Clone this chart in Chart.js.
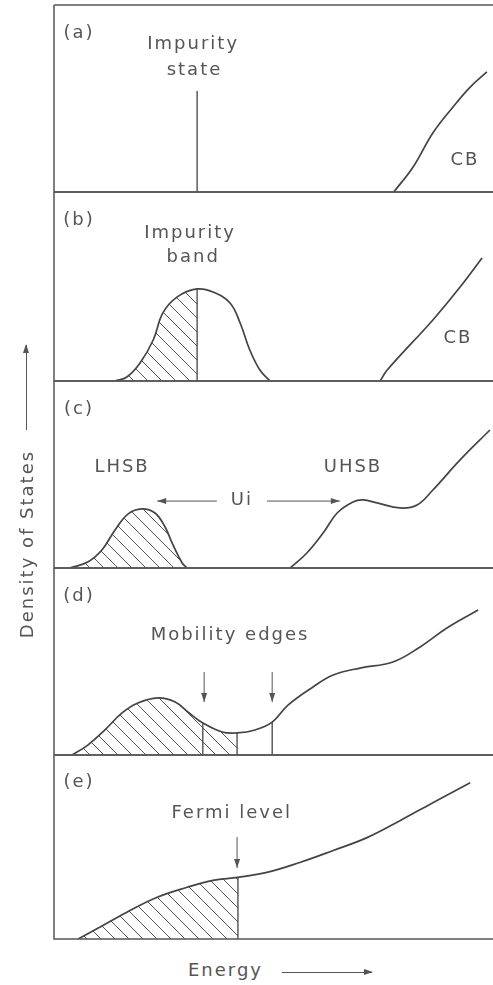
<!DOCTYPE html>
<html>
<head>
<meta charset="utf-8">
<script src="https://cdn.jsdelivr.net/npm/chart.js@4.4.1/dist/chart.umd.min.js"></script>
<style>
  html, body { margin: 0; padding: 0; background: #fff; }
  #page { position: relative; width: 493px; height: 985px; overflow: hidden;
          font-family: "DejaVu Sans", sans-serif; color: #555; }
  #page canvas { position: absolute; left: 0; }
  .axis-title { position: absolute; font-size: 18px; letter-spacing: 2px; white-space: nowrap; }
  .arrow-x { position: absolute; height: 0; border-top: 1px solid #555; }
  .arrow-x::after { content: ''; position: absolute; right: -1px; top: -4px;
                    border-left: 9px solid #555; border-top: 3px solid transparent; border-bottom: 3px solid transparent; }
  .arrow-y { position: absolute; width: 0; border-left: 1px solid #555; }
  .arrow-y::after { content: ''; position: absolute; left: -4px; top: -1px;
                    border-bottom: 9px solid #555; border-left: 3px solid transparent; border-right: 3px solid transparent; }
</style>
</head>
<body>
<div id="page">
  <canvas id="panelA"></canvas>
  <canvas id="panelB"></canvas>
  <canvas id="panelC"></canvas>
  <canvas id="panelD"></canvas>
  <canvas id="panelE"></canvas>
  <div class="axis-title" style="left:-93px; top:532px; width:240px; height:24px; line-height:24px; text-align:center; transform:rotate(-90deg);">Density of States</div>
  <div class="arrow-y" style="left:26px; top:345px; height:85px;"></div>
  <div class="axis-title" style="left:188px; top:958px; line-height:24px;">Energy</div>
  <div class="arrow-x" style="left:282px; top:972px; width:90px;"></div>
</div>
<script>
// 线条与文字颜色
const INK = '#444';
const TEXT = '#555';
const FONT = '18px "DejaVu Sans", sans-serif';

// 各子图在页面中的上下边界 (px)
const panelTops = [5, 192, 381, 568, 755];
const panelBottoms = [192, 381, 568, 755, 939];
const panelTags = ['(a)', '(b)', '(c)', '(d)', '(e)'];

// (a) 杂质能级 + 导带
const aStateE = [3.26, 3.26];
const aStateDos = [0, 5.4];
const aCbE = [7.74, 8.18, 8.63, 9.09, 9.48, 9.86];
const aCbDos = [0, 1.34, 3.16, 4.55, 5.61, 6.42];

// (b) 杂质带 + 导带
const bBandE = [1.39, 1.66, 1.96, 2.26, 2.48, 2.80, 3.26, 3.62, 4.01, 4.24, 4.46, 4.69, 4.92];
const bBandDos = [0, 0.21, 0.95, 2.17, 3.60, 4.44, 4.87, 4.71, 4.13, 3.07, 1.64, 0.58, 0];
const bFilledTo = 3.26;
const bCbE = [7.43, 7.59, 8.63, 9.25, 9.75];
const bCbDos = [0, 0.58, 3.23, 4.97, 6.51];

// (c) 下/上 Hubbard 子带
const cLowerE = [0.36, 0.77, 1.09, 1.39, 1.69, 2.00, 2.30, 2.53, 2.69, 2.92, 3.03];
const cLowerDos = [0, 0.32, 0.96, 2.03, 2.89, 3.16, 2.94, 2.19, 1.34, 0.27, 0];
const cUpperE = [5.38, 5.76, 6.13, 6.45, 6.81, 7.04, 7.36, 7.88, 8.27, 8.63, 9.25, 9.93];
const cUpperDos = [0, 0.80, 1.87, 2.94, 3.53, 3.64, 3.48, 3.21, 3.37, 4.17, 5.78, 7.38];

// (d) 迁移率边
const dE = [0.41, 0.77, 1.16, 1.55, 1.91, 2.37, 2.76, 3.05, 3.39, 3.83, 4.17, 4.58, 4.97, 5.33, 5.90, 6.36, 6.97, 7.72, 8.34, 8.95, 9.66];
const dDos = [0, 0.53, 1.34, 2.25, 2.78, 3.05, 2.83, 2.30, 1.71, 1.23, 1.18, 1.34, 1.76, 2.67, 3.64, 4.28, 4.65, 4.97, 5.78, 6.79, 7.75];
const dEdgeE = [3.39, 4.17, 4.97];
const dEdgeDos = [1.71, 1.18, 1.76];
const dFilledTo = 4.17;

// (e) 费米能级
const eE = [0.55, 1.05, 1.66, 2.35, 3.03, 3.62, 4.19, 4.85, 5.60, 6.36, 7.13, 7.88, 8.63, 9.48];
const eDos = [0, 0.65, 1.46, 2.27, 2.81, 3.19, 3.35, 3.62, 4.16, 4.81, 5.51, 6.43, 7.41, 8.49];
const eFermiE = 4.19;
const eFermiDos = 3.37;

/**
 * 把两个数组合成 {x, y} 点
 */
function toPoints(xs, ys) {
  return xs.map((x, i) => ({ x: x, y: ys[i] }));
}

/**
 * 斜线填充图案 (\\\\)
 */
function makeHatch() {
  const s = 14;
  const c = document.createElement('canvas');
  c.width = s;
  c.height = s;
  const g = c.getContext('2d');
  g.strokeStyle = '#555';
  g.lineWidth = 1;
  g.beginPath();
  g.moveTo(-1, -1); g.lineTo(s + 1, s + 1);
  g.moveTo(-1, s - 1); g.lineTo(1, s + 1);
  g.moveTo(s - 1, -1); g.lineTo(s + 1, 1);
  g.stroke();
  return g.createPattern(c, 'repeat');
}
const HATCH = makeHatch();

function curve(points) {
  return {
    data: points,
    borderColor: INK,
    borderWidth: 1.7,
    pointRadius: 0,
    fill: false,
    tension: 0.4
  };
}

function stick(points) {
  return {
    data: points,
    borderColor: INK,
    borderWidth: 1.3,
    pointRadius: 0,
    fill: false,
    tension: 0
  };
}

function hatched(points) {
  return {
    data: points,
    borderWidth: 0,
    borderColor: 'rgba(0,0,0,0)',
    backgroundColor: HATCH,
    pointRadius: 0,
    fill: 'origin',
    tension: 0.4
  };
}

// 边框、文字、箭头
const framePlugin = {
  id: 'frame',
  afterDraw(chart, args, opts) {
    const ctx = chart.ctx;
    const area = chart.chartArea;
    const xs = chart.scales.x;
    const ys = chart.scales.y;
    ctx.save();
    ctx.strokeStyle = '#555';
    ctx.lineWidth = 1.5;
    ctx.beginPath();
    ctx.moveTo(area.left, area.top);
    ctx.lineTo(area.right, area.top);
    ctx.moveTo(area.left, area.top);
    ctx.lineTo(area.left, area.bottom);
    ctx.lineTo(area.right, area.bottom);
    ctx.stroke();

    ctx.fillStyle = TEXT;
    ctx.font = FONT;
    ctx.letterSpacing = '2px';
    ctx.textAlign = 'center';
    ctx.textBaseline = 'middle';
    (opts.notes || []).forEach(n => {
      ctx.fillText(n.text, xs.getPixelForValue(n.x), ys.getPixelForValue(n.y));
    });

    ctx.strokeStyle = '#555';
    ctx.fillStyle = '#555';
    ctx.lineWidth = 1;
    (opts.arrows || []).forEach(a => {
      const x1 = xs.getPixelForValue(a.x1), y1 = ys.getPixelForValue(a.y1);
      const x2 = xs.getPixelForValue(a.x2), y2 = ys.getPixelForValue(a.y2);
      const ang = Math.atan2(y2 - y1, x2 - x1);
      ctx.beginPath();
      ctx.moveTo(x1, y1);
      ctx.lineTo(x2, y2);
      ctx.stroke();
      ctx.beginPath();
      ctx.moveTo(x2, y2);
      ctx.lineTo(x2 - 9 * Math.cos(ang) + 3 * Math.sin(ang), y2 - 9 * Math.sin(ang) - 3 * Math.cos(ang));
      ctx.lineTo(x2 - 9 * Math.cos(ang) - 3 * Math.sin(ang), y2 - 9 * Math.sin(ang) + 3 * Math.cos(ang));
      ctx.closePath();
      ctx.fill();
    });
    ctx.restore();
  }
};

function makePanel(id, index, datasets, notes, arrows) {
  const canvas = document.getElementById(id);
  const top = panelTops[index] - 1;
  const height = panelBottoms[index] - panelTops[index] + 2;
  canvas.width = 493;
  canvas.height = height;
  canvas.style.top = top + 'px';
  return new Chart(canvas, {
    type: 'line',
    data: { datasets: datasets },
    options: {
      responsive: false,
      animation: false,
      events: [],
      layout: { padding: { left: 54, right: 0, top: 1, bottom: 1 } },
      scales: {
        x: { type: 'linear', min: 0, max: 10, display: false },
        y: { type: 'linear', min: 0, max: 10, display: false }
      },
      plugins: {
        legend: { display: false },
        tooltip: { enabled: false },
        frame: {
          notes: [{ text: panelTags[index], x: 0.57, y: 8.5 }].concat(notes),
          arrows: arrows
        }
      }
    },
    plugins: [framePlugin]
  });
}

makePanel('panelA', 0, [
  stick(toPoints(aStateE, aStateDos)),
  curve(toPoints(aCbE, aCbDos))
], [
  { text: 'Impurity', x: 3.17, y: 7.9 },
  { text: 'state', x: 3.2, y: 6.5 },
  { text: 'CB', x: 9.36, y: 1.7 }
], []);

const bBand = toPoints(bBandE, bBandDos);
makePanel('panelB', 1, [
  curve(bBand),
  stick([{ x: bFilledTo, y: 0 }, bBand.find(p => p.x === bFilledTo)]),
  hatched(bBand.filter(p => p.x <= bFilledTo)),
  curve(toPoints(bCbE, bCbDos))
], [
  { text: 'Impurity', x: 3.1, y: 7.83 },
  { text: 'band', x: 3.17, y: 6.56 },
  { text: 'CB', x: 9.2, y: 2.28 }
], []);

const cLower = toPoints(cLowerE, cLowerDos);
makePanel('panelC', 2, [
  curve(cLower),
  hatched(cLower),
  curve(toPoints(cUpperE, cUpperDos))
], [
  { text: 'LHSB', x: 1.55, y: 5.4 },
  { text: 'UHSB', x: 6.81, y: 5.4 },
  { text: 'Ui', x: 4.28, y: 3.6 }
], [
  { x1: 3.71, y1: 3.58, x2: 2.35, y2: 3.58 },
  { x1: 4.85, y1: 3.58, x2: 6.51, y2: 3.58 }
]);

const dCurve = toPoints(dE, dDos);
makePanel('panelD', 3, [
  curve(dCurve),
  ...dEdgeE.map((x, i) => stick([{ x: x, y: 0 }, { x: x, y: dEdgeDos[i] }])),
  hatched(dCurve.filter(p => p.x <= dFilledTo))
], [
  { text: 'Mobility edges', x: 4.01, y: 6.42 }
], [
  { x1: 3.42, y1: 4.44, x2: 3.42, y2: 2.83 },
  { x1: 4.97, y1: 4.44, x2: 4.97, y2: 2.83 }
]);

const eCurve = toPoints(eE, eDos);
makePanel('panelE', 4, [
  curve(eCurve),
  stick([{ x: eFermiE, y: 0 }, { x: eFermiE, y: eFermiDos }]),
  hatched(eCurve.filter(p => p.x <= eFermiE))
], [
  { text: 'Fermi level', x: 4.05, y: 6.85 }
], [
  { x1: 4.17, y1: 5.54, x2: 4.17, y2: 3.86 }
]);
</script>
</body>
</html>
